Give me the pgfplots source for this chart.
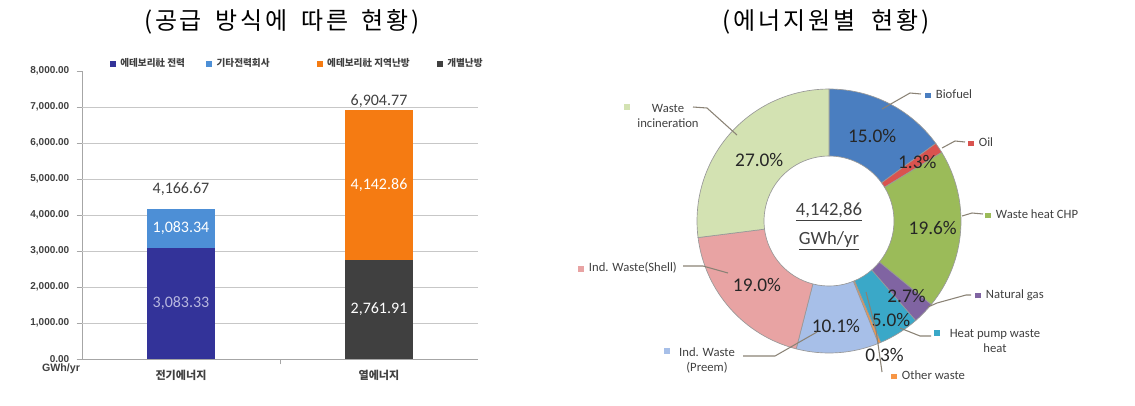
\documentclass[border=0pt]{standalone}
\usepackage{fontspec}
\setmainfont{Carlito}
\newfontfamily\kr{Noto Sans CJK KR}
\newfontfamily\krt{Noto Sans CJK KR}[LetterSpace=12]
\newfontfamily\lib{Liberation Sans}
\usepackage{pgfplots}
\pgfplotsset{compat=1.18}

\definecolor{elecA}{HTML}{333399}
\definecolor{elecB}{HTML}{4D8FD6}
\definecolor{heatA}{HTML}{F57B12}
\definecolor{heatB}{HTML}{404040}
\definecolor{pBio}{HTML}{4A7EC0}
\definecolor{pOil}{HTML}{D9534F}
\definecolor{pCHP}{HTML}{9BBB59}
\definecolor{pGas}{HTML}{8064A2}
\definecolor{pHP}{HTML}{3AA8C8}
\definecolor{pOth}{HTML}{F79646}
\definecolor{pPre}{HTML}{A7BFE8}
\definecolor{pShe}{HTML}{E8A3A3}
\definecolor{pInc}{HTML}{D3E2B2}
\definecolor{txt}{HTML}{404040}
\definecolor{lead}{HTML}{8A8275}

\newcommand\labfont{\fontsize{12}{14}\selectfont}
\newcommand\pielab{\fontsize{14.5}{16}\selectfont}
\newcommand\legfont{\fontsize{9.5}{11.25}\selectfont}
\newcommand\sq[1]{\textcolor{#1}{\rule{4pt}{4pt}}}

% share (%) / colour / label radius (px)
\def\piedata{15.0/pBio/95, 1.3/pOil/106, 19.6/pCHP/104, 2.7/pGas/108, 5.0/pHP/117, 0.3/pOth/145, 10.1/pPre/105, 19.0/pShe/96, 27.0/pInc/93}

\begin{document}
\begin{tikzpicture}[x=0.75pt,y=-0.75pt]
\useasboundingbox (0,0) rectangle (1135,405);

% titles
\node[font=\krt\fontsize{18}{20}\selectfont] at (282,22) {(공급\hspace{4pt} 방식에\hspace{4pt} 따른\hspace{4pt} 현황)};
\node[font=\krt\fontsize{18}{20}\selectfont] at (826,22) {(에너지원별\hspace{6pt} 현황)};

% ---------- stacked bar chart ----------
\begin{axis}[
  at={(61.5pt,-269.25pt)}, anchor=south west,
  scale only axis, width=297pt, height=216pt,
  xmin=0, xmax=2, ymin=0, ymax=8000,
  ybar stacked, bar width=51pt,
  axis x line*=bottom, axis y line*=left,
  axis line style={draw=black!35},
  xtick={0.5,1.5}, xticklabels={전기에너지,열에너지},
  xticklabel style={font=\kr\bfseries\fontsize{8.3}{9}\selectfont, text=txt, yshift=-1pt},
  major x tick style={draw=none},
  extra x ticks={1}, extra x tick labels={},
  extra x tick style={major tick length=4pt, tick align=outside, major x tick style={draw=black!35}},
  ytick={0,1000,...,8000},
  scaled y ticks=false,
  /pgf/number format/assume math mode=true,
  yticklabel style={font=\lib\bfseries\fontsize{7.5}{8}\selectfont, text=txt, xshift=-2pt,
     /pgf/number format/.cd, fixed, fixed zerofill, precision=2, 1000 sep={,}},
  tick align=outside, major tick length=4pt,
  major y tick style={draw=black!35},
  extra y ticks={1000,2000,...,7000}, extra y tick labels={},
  extra y tick style={grid=major, major tick length=0pt},
  major grid style={draw=black!22},
]
\addplot[fill=elecA, draw=none] coordinates {(0.5,3083.33) (1.5,0)};
\addplot[fill=elecB, draw=none] coordinates {(0.5,1083.34) (1.5,0)};
\addplot[fill=heatB, draw=none] coordinates {(0.5,0) (1.5,2761.91)};
\addplot[fill=heatA, draw=none] coordinates {(0.5,0) (1.5,4142.86)};
\end{axis}

% overlay axis for labels and legend
\begin{axis}[
  at={(61.5pt,-269.25pt)}, anchor=south west,
  scale only axis, width=297pt, height=216pt,
  xmin=0, xmax=2, ymin=0, ymax=8000, hide axis,
  legend columns=4,
  legend style={at={(rel axis cs:0.07,1.025)}, anchor=west, draw=none, fill=none,
    font=\kr\bfseries\fontsize{7.2}{8}\selectfont, text=txt, inner sep=0pt,
    /tikz/every even column/.append style={column sep=14pt},
    /tikz/every odd column/.append style={column sep=1.5pt}},
]
\addplot[forget plot, draw=none, mark=none, nodes near coords, point meta=explicit symbolic,
  nodes near coords style={font=\labfont, text=white, anchor=center}]
  coordinates {(0.5,3625.00) [1,083.34] (1.5,4833.34) [4,142.86] (1.5,1380.96) [2,761.91]};
\addplot[forget plot, draw=none, mark=none, nodes near coords, point meta=explicit symbolic,
  nodes near coords style={font=\labfont, text=black!15!white!85!blue, anchor=center}]
  coordinates {(0.5,1541.67) [3,083.33]};
\addplot[forget plot, draw=none, mark=none, nodes near coords, point meta=explicit symbolic,
  nodes near coords style={font=\labfont, text=txt, anchor=center}]
  coordinates {(0.5,4720) [4,166.67] (1.5,7150) [6,904.77]};
\addlegendimage{legend image code/.code={\fill[elecA] (0pt,-1.9pt) rectangle (3.8pt,1.9pt);}}
\addlegendentry{에테보리社 전력}
\addlegendimage{legend image code/.code={\fill[elecB] (0pt,-1.9pt) rectangle (3.8pt,1.9pt);}}
\addlegendentry{기타전력회사\rule{19.5pt}{0pt}}
\addlegendimage{legend image code/.code={\fill[heatA] (0pt,-1.9pt) rectangle (3.8pt,1.9pt);}}
\addlegendentry{에테보리社 지역난방\rule{4.5pt}{0pt}}
\addlegendimage{legend image code/.code={\fill[heatB] (0pt,-1.9pt) rectangle (3.8pt,1.9pt);}}
\addlegendentry{개별난방}
\end{axis}

\node[font=\lib\bfseries\fontsize{8}{9}\selectfont, text=txt] at (61,369) {GWh/yr};

% ---------- donut chart ----------
\begin{axis}[
  at={(621.75pt,-165.75pt)}, anchor=center, hide axis,
  x=0.75pt, y=0.75pt, xmin=-140, xmax=140, ymin=-140, ymax=140, clip=false,
]
\gdef\cum{0}
\foreach \val/\col/\rad in \piedata {
  \pgfmathsetmacro\aa{90-3.6*\cum}
  \pgfmathsetmacro\bb{90-3.6*(\cum+\val)}
  \pgfmathsetmacro\nc{\cum+\val}
  \xdef\cum{\nc}
  \edef\temp{\noexpand\filldraw[fill=\col, draw=black!40, line width=0.5pt]
    ([shift={(\aa:99pt)}]axis cs:0,0) arc[start angle=\aa, end angle=\bb, radius=99pt]
    -- ([shift={(\bb:48.75pt)}]axis cs:0,0) arc[start angle=\bb, end angle=\aa, radius=48.75pt] -- cycle;}
  \temp
}
\gdef\cum{0}
\foreach \val/\col/\rad in \piedata {
  \pgfmathsetmacro\aa{90-3.6*\cum}
  \pgfmathsetmacro\bb{90-3.6*(\cum+\val)}
  \pgfmathsetmacro\mm{(\aa+\bb)/2}
  \pgfmathsetmacro\rr{\rad*0.75}
  \pgfmathsetmacro\nc{\cum+\val}
  \xdef\cum{\nc}
  \edef\temp{\noexpand\node[font=\noexpand\pielab, text=black!85] at ([shift={(\mm:\rr pt)}]axis cs:0,0) {\val\noexpand\%};}
  \temp
}
\end{axis}

\node[font=\fontsize{14}{16}\selectfont, text=txt] at (829,212) {\underline{4,142,86}};
\node[font=\fontsize{14}{16}\selectfont, text=txt] at (829,241) {\underline{GWh/yr}};

% leader lines
\begin{scope}[draw=lead, line width=0.8pt]
\draw (693,107) -- (707,108) -- (737,135);
\draw (921,94) -- (910,93) -- (882,109);
\draw (965,142) -- (955,141) -- (942,148);
\draw (983,214) -- (972,213) -- (962,216);
\draw (971,295) -- (966,295) -- (937,303) -- (928,307);
\draw (931,336) -- (920,336) -- (900,328);
\draw (882,372) -- (876,330) -- (866,292);
\draw (743,356) -- (775,356) -- (817,332);
\draw (683,266) -- (703,266) -- (728,273);
\end{scope}

% pie legend labels
\begin{scope}[every node/.style={font=\legfont, text=txt, inner sep=0pt}]
\node[anchor=west] at (925,94) {\sq{pBio}\hspace{4pt}Biofuel};
\node[anchor=west] at (968,142) {\sq{pOil}\hspace{4pt}Oil};
\node[anchor=west] at (985,214) {\sq{pCHP}\hspace{4pt}Waste heat CHP};
\node[anchor=west] at (975,295) {\sq{pGas}\hspace{4pt}Natural gas};
\node at (937,333) {\sq{pHP}};
\node[align=center] at (995,341) {Heat pump waste\\heat};
\node[anchor=west] at (891,375) {\sq{pOth}\hspace{4pt}Other waste};
\node at (667,351) {\sq{pPre}};
\node[align=center] at (707,360) {Ind. Waste\\(Preem)};
\node[anchor=west] at (578,268) {\sq{pShe}\hspace{4pt}Ind. Waste(Shell)};
\node at (627,107) {\sq{pInc}};
\node[align=center] at (668,116) {Waste\\incineration};
\end{scope}
\end{tikzpicture}
\end{document}
